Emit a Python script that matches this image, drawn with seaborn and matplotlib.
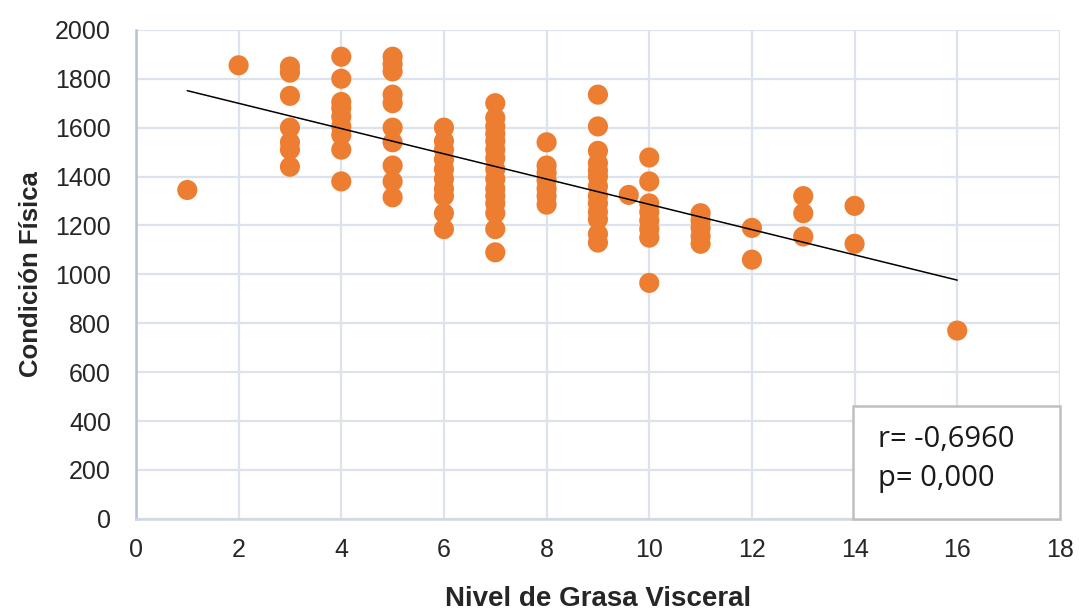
import numpy as np
import pandas as pd
import matplotlib
matplotlib.use("Agg")
import matplotlib.pyplot as plt
from matplotlib.patches import Rectangle
import seaborn as sns

# =============================================================================
# datos
# =============================================================================
nivel = [1,
         2,
         3, 3, 3, 3, 3, 3, 3,
         4, 4, 4, 4, 4, 4, 4, 4, 4,
         5, 5, 5, 5, 5, 5, 5, 5, 5, 5,
         6, 6, 6, 6, 6, 6, 6, 6, 6, 6,
         7, 7, 7, 7, 7, 7, 7, 7, 7, 7, 7, 7, 7, 7, 7,
         8, 8, 8, 8, 8, 8, 8,
         9, 9, 9, 9, 9, 9, 9, 9, 9, 9, 9, 9, 9,
         9.6,
         10, 10, 10, 10, 10, 10, 10, 10,
         11, 11, 11, 11, 11,
         12, 12,
         13, 13, 13,
         14, 14,
         16]

condicion = [1345,
             1855,
             1850, 1825, 1730, 1600, 1540, 1510, 1440,
             1890, 1800, 1705, 1680, 1645, 1605, 1570, 1510, 1380,
             1890, 1860, 1830, 1735, 1700, 1600, 1540, 1445, 1380, 1315,
             1600, 1545, 1510, 1470, 1430, 1390, 1350, 1320, 1250, 1185,
             1700, 1640, 1605, 1575, 1545, 1510, 1475, 1430, 1390, 1350, 1320, 1290, 1250, 1185, 1090,
             1540, 1445, 1415, 1385, 1350, 1320, 1285,
             1735, 1605, 1505, 1455, 1425, 1400, 1360, 1320, 1290, 1255, 1225, 1165, 1130,
             1325,
             1478, 1380, 1290, 1255, 1220, 1185, 1150, 965,
             1250, 1220, 1190, 1155, 1125,
             1190, 1060,
             1320, 1250, 1155,
             1280, 1125,
             770]

x_ticks = [0, 2, 4, 6, 8, 10, 12, 14, 16, 18]
y_ticks = [0, 200, 400, 600, 800, 1000, 1200, 1400, 1600, 1800, 2000]
texto_r = 'r= -0,6960'
texto_p = 'p= 0,000'

df = pd.DataFrame({'nivel': nivel, 'condicion': condicion})

# =============================================================================
# grafico
# =============================================================================
sns.set_theme(style='whitegrid')
plt.rcParams['font.family'] = ['Liberation Sans', 'DejaVu Sans']

fig = plt.figure(figsize=(10.79, 6.14), dpi=100)
ax = fig.add_axes([0.126, 0.155, 0.8563, 0.7964])

naranja = '#ED7D31'
sns.scatterplot(data=df, x='nivel', y='condicion', color=naranja, s=210,
                edgecolor='none', linewidth=0, ax=ax, zorder=3)
sns.regplot(data=df, x='nivel', y='condicion', scatter=False, ci=None,
            truncate=True, color='black', line_kws={'linewidth': 1.1, 'zorder': 4},
            ax=ax)

ax.set_xlim(0, 18)
ax.set_ylim(0, 2000)
ax.set_xticks(x_ticks)
ax.set_yticks(y_ticks)
ax.tick_params(axis='both', length=0, labelsize=18, colors='#262626')
ax.tick_params(axis='x', pad=14)
ax.tick_params(axis='y', pad=18)

ax.grid(True, color='#dde3ec', linewidth=1.6)
ax.set_axisbelow(True)
for lado in ['top', 'right']:
    ax.spines[lado].set_visible(False)
ax.spines['left'].set_color('#b4c2d6')
ax.spines['left'].set_linewidth(1.8)
ax.spines['bottom'].set_color('#d0d8e4')
ax.spines['bottom'].set_linewidth(1.8)

ax.set_xlabel('Nivel de Grasa Visceral', fontsize=20, fontweight='bold', labelpad=17)
ax.set_ylabel('Condición Física', fontsize=18.5, fontweight='bold', labelpad=9)

# cuadro con r y p
caja = Rectangle((0.7757, 0.0), 0.2243, 0.2317, transform=ax.transAxes,
                 facecolor='white', edgecolor='#bfbfbf', linewidth=1.8,
                 zorder=5, clip_on=False)
ax.add_patch(caja)
ax.text(0.803, 0.163, texto_r, transform=ax.transAxes, fontsize=21,
        family=['Open Sans', 'DejaVu Sans'], color='#1a1a1a', va='center', zorder=6)
ax.text(0.803, 0.083, texto_p, transform=ax.transAxes, fontsize=21,
        family=['Open Sans', 'DejaVu Sans'], color='#1a1a1a', va='center', zorder=6)

fig.savefig('out.png', dpi=100)
